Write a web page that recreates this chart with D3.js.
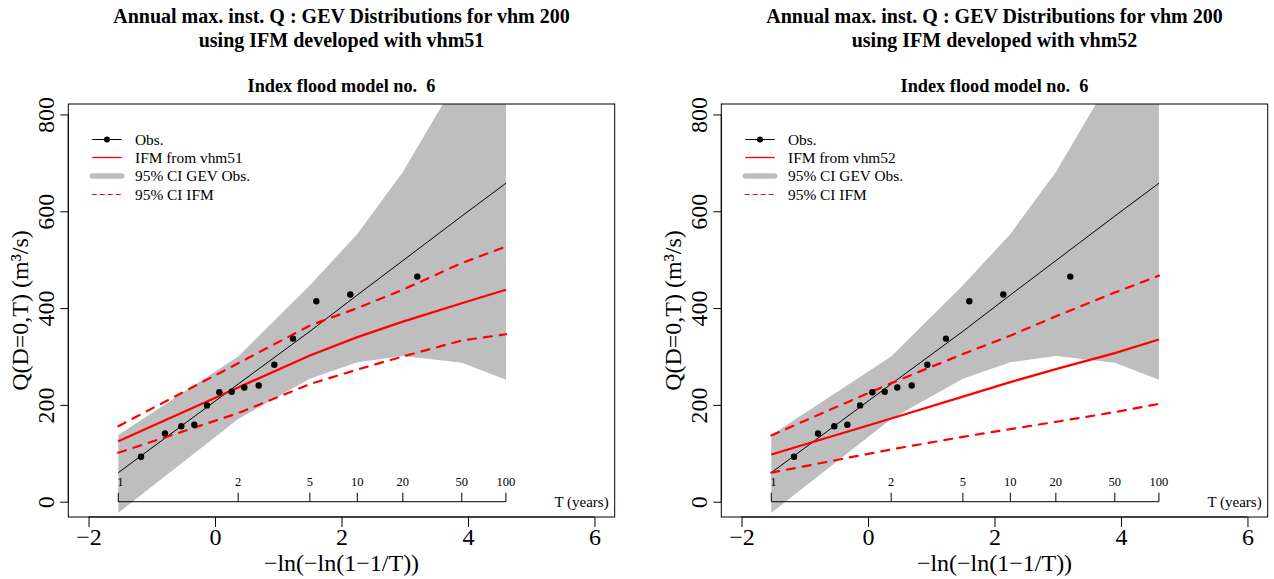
<!DOCTYPE html>
<html>
<head>
<meta charset="utf-8">
<script src="https://cdn.jsdelivr.net/npm/d3@7"></script>
<style>
  html, body { margin: 0; padding: 0; background: #fff; }
  svg { display: block; }
  text { font-family: "Liberation Serif", "Times New Roman", serif; fill: #000; }
</style>
</head>
<body>
<svg id="chart" width="1274" height="579"></svg>
<script>
// ---------------- data ----------------
// return periods at which the curves were evaluated
const T_GRID = [1.01, 2, 5, 10, 20, 50, 100];
const T_TICK_LABELS = ["1", "2", "5", "10", "20", "50", "100"];

// observed annual maxima (reduced variate, discharge m3/s)
const OBS_X = [-1.170, -0.791, -0.533, -0.327, -0.126, 0.068, 0.264, 0.463, 0.691, 0.938, 1.233, 1.602, 2.139, 3.199];
const OBS_Q = [93, 141, 156, 159, 199, 226, 227, 236, 240, 283, 337, 414, 428, 465];

// GEV fitted to observations and its 95% CI
const GEV_OBS   = [60, 243, 352, 427, 498, 590, 658];
const GEV_UPPER = [138, 300, 447, 553, 681, 888, 1050];
const GEV_LOWER = [-23, 171, 254, 288, 301, 287, 252];

// IFM developed with vhm51
const IFM51       = [125, 236, 302, 340, 372, 410, 438];
const IFM51_UPPER = [156, 286, 364, 400, 438, 493, 527];
const IFM51_LOWER = [101, 183, 243, 273, 300, 333, 346];

// IFM developed with vhm52
const IFM52       = [97.5, 172, 217, 247, 274, 307, 335];
const IFM52_UPPER = [137, 245, 305, 343, 383, 432, 467];
const IFM52_LOWER = [60, 108, 134, 150, 165, 185, 202];

const X_TICKS = [-2, 0, 2, 4, 6];
const Y_TICKS = [0, 200, 400, 600, 800];

const PANELS = [
  { model: "vhm51", ifm: IFM51, up: IFM51_UPPER, lo: IFM51_LOWER },
  { model: "vhm52", ifm: IFM52, up: IFM52_UPPER, lo: IFM52_LOWER }
];

// ---------------- drawing ----------------
const svg = d3.select("#chart");
const gumbel = T => -Math.log(-Math.log(1 - 1 / T));
const GREY = "#bebebe", RED = "#ff0000";

PANELS.forEach((p, i) => {
  const off = i * 653;
  const left = 68.3 + off, right = 614.7 + off, top = 104, bottom = 517;
  const x = d3.scaleLinear().domain([-2.32, 6.32]).range([left, right]);
  const y = d3.scaleLinear().domain([-31.6, 821.6]).range([bottom, top]);
  const g = svg.append("g");

  const clipId = "clip" + i;
  svg.append("clipPath").attr("id", clipId).append("rect")
    .attr("x", left).attr("y", top).attr("width", right - left).attr("height", bottom - top);
  const plot = g.append("g").attr("clip-path", `url(#${clipId})`);

  const rows = T_GRID.map((T, k) => ({ x: gumbel(T), k }));

  // CI band of GEV obs
  plot.append("path")
    .datum(rows)
    .attr("d", d3.area().x(d => x(d.x)).y0(d => y(GEV_LOWER[d.k])).y1(d => y(GEV_UPPER[d.k])))
    .attr("fill", GREY).attr("stroke", "none");

  // T axis inside plot
  const tg = g.append("g");
  tg.append("line")
    .attr("x1", x(gumbel(T_GRID[0]))).attr("x2", x(gumbel(T_GRID[T_GRID.length - 1])))
    .attr("y1", y(0)).attr("y2", y(0)).attr("stroke", "#000").attr("stroke-width", 1);
  tg.selectAll(".tt").data(T_GRID).enter().append("line")
    .attr("x1", d => x(gumbel(d))).attr("x2", d => x(gumbel(d)))
    .attr("y1", y(0)).attr("y2", y(0) - 9).attr("stroke", "#000").attr("stroke-width", 1);
  tg.selectAll(".tl").data(T_GRID).enter().append("text")
    .attr("x", d => x(gumbel(d)) + (d === T_GRID[0] ? 2 : 0)).attr("y", y(0) - 15.5)
    .attr("text-anchor", "middle").style("font-size", "12.5px")
    .text((d, k) => T_TICK_LABELS[k]);
  g.append("text").attr("x", right - 6).attr("y", y(0) + 5)
    .attr("text-anchor", "end").style("font-size", "15px").text("T (years)");

  // GEV obs line
  plot.append("path").datum(rows)
    .attr("d", d3.line().x(d => x(d.x)).y(d => y(GEV_OBS[d.k])))
    .attr("fill", "none").attr("stroke", "#000").attr("stroke-width", 1);

  // IFM lines
  const dashed = [p.up, p.lo];
  dashed.forEach(arr => {
    plot.append("path").datum(rows)
      .attr("d", d3.line().x(d => x(d.x)).y(d => y(arr[d.k])))
      .attr("fill", "none").attr("stroke", RED).attr("stroke-width", 2.2)
      .attr("stroke-dasharray", "8,8").attr("stroke-linecap", "round");
  });
  plot.append("path").datum(rows)
    .attr("d", d3.line().x(d => x(d.x)).y(d => y(p.ifm[d.k])))
    .attr("fill", "none").attr("stroke", RED).attr("stroke-width", 2.2);

  // obs points
  plot.selectAll(".pt").data(OBS_X).enter().append("circle")
    .attr("cx", d => x(d)).attr("cy", (d, k) => y(OBS_Q[k])).attr("r", 3.2).attr("fill", "#000");

  // box
  g.append("rect").attr("x", left).attr("y", top).attr("width", right - left).attr("height", bottom - top)
    .attr("fill", "none").attr("stroke", "#000").attr("stroke-width", 1);

  // x axis
  const xa = g.append("g").attr("transform", `translate(0,${bottom})`)
    .call(d3.axisBottom(x).tickValues(X_TICKS).tickSize(10).tickSizeOuter(0).tickPadding(4));
  xa.select(".domain").remove();
  xa.selectAll("line").attr("stroke", "#000");
  xa.selectAll("text").style("font-size", "24px").attr("font-family", "Liberation Serif")
    .attr("dy", null).attr("y", 28);
  xa.append("line").attr("x1", x(X_TICKS[0])).attr("x2", x(X_TICKS[X_TICKS.length - 1]))
    .attr("y1", 0).attr("y2", 0).attr("stroke", "#000");

  // y axis
  const ya = g.append("g").attr("transform", `translate(${left},0)`)
    .call(d3.axisLeft(y).tickValues(Y_TICKS).tickSize(8).tickSizeOuter(0));
  ya.select(".domain").remove();
  ya.selectAll("line").attr("stroke", "#000");
  ya.selectAll("text").style("font-size", "24px").attr("font-family", "Liberation Serif")
    .attr("transform", "rotate(-90)").attr("x", 0).attr("y", -(left - 45.5 - off))
    .attr("dy", "0.35em").attr("text-anchor", "middle");
  ya.append("line").attr("x1", 0).attr("x2", 0)
    .attr("y1", y(Y_TICKS[0])).attr("y2", y(Y_TICKS[Y_TICKS.length - 1])).attr("stroke", "#000");

  // axis titles
  g.append("text").attr("x", (left + right) / 2).attr("y", 571)
    .attr("text-anchor", "middle").style("font-size", "24px").text("\u2212ln(\u2212ln(1\u22121/T))");
  g.append("text").attr("transform", `translate(${28 + off},${(top + bottom) / 2}) rotate(-90)`)
    .attr("text-anchor", "middle").style("font-size", "24px").text("Q(D=0,T) (m\u00b3/s)");

  // titles
  const cx = (left + right) / 2;
  g.append("text").attr("x", cx).attr("y", 23).attr("text-anchor", "middle")
    .style("font-size", "20px").style("font-weight", "bold")
    .text("Annual max. inst. Q : GEV Distributions for vhm 200");
  g.append("text").attr("x", cx).attr("y", 47).attr("text-anchor", "middle")
    .style("font-size", "20px").style("font-weight", "bold")
    .text("using IFM developed with " + p.model);
  g.append("text").attr("x", cx).attr("y", 92).attr("text-anchor", "middle")
    .style("font-size", "18.3px").style("font-weight", "bold").style("white-space", "pre")
    .attr("xml:space", "preserve")
    .text("Index flood model no.  6");

  // legend
  const lx1 = 92.3 + off, lx2 = 121.7 + off, tx = 135 + off;
  const ly = [139.5, 157.5, 176, 194.5];
  const leg = g.append("g");
  leg.append("line").attr("x1", lx1).attr("x2", lx2).attr("y1", ly[0]).attr("y2", ly[0]).attr("stroke", "#000");
  leg.append("circle").attr("cx", (lx1 + lx2) / 2).attr("cy", ly[0]).attr("r", 3).attr("fill", "#000");
  leg.append("line").attr("x1", lx1).attr("x2", lx2).attr("y1", ly[1]).attr("y2", ly[1])
    .style("stroke", RED).attr("stroke-width", 1.3);
  leg.append("line").attr("x1", lx1).attr("x2", lx2).attr("y1", ly[2]).attr("y2", ly[2]).attr("stroke", GREY)
    .attr("stroke-width", 5.5).attr("stroke-linecap", "round");
  leg.append("line").attr("x1", lx1).attr("x2", lx2).attr("y1", ly[3]).attr("y2", ly[3]).style("stroke", RED)
    .attr("stroke-width", 1.2).attr("stroke-dasharray", "4,4").attr("stroke-linecap", "round");
  const labels = ["Obs.", "IFM from " + p.model, "95% CI GEV Obs.", "95% CI IFM"];
  leg.selectAll(".lt").data(labels).enter().append("text")
    .attr("x", tx).attr("y", (d, k) => ly[k]).attr("dy", "0.33em")
    .style("font-size", "15.4px").text(d => d);
});
</script>
</body>
</html>
